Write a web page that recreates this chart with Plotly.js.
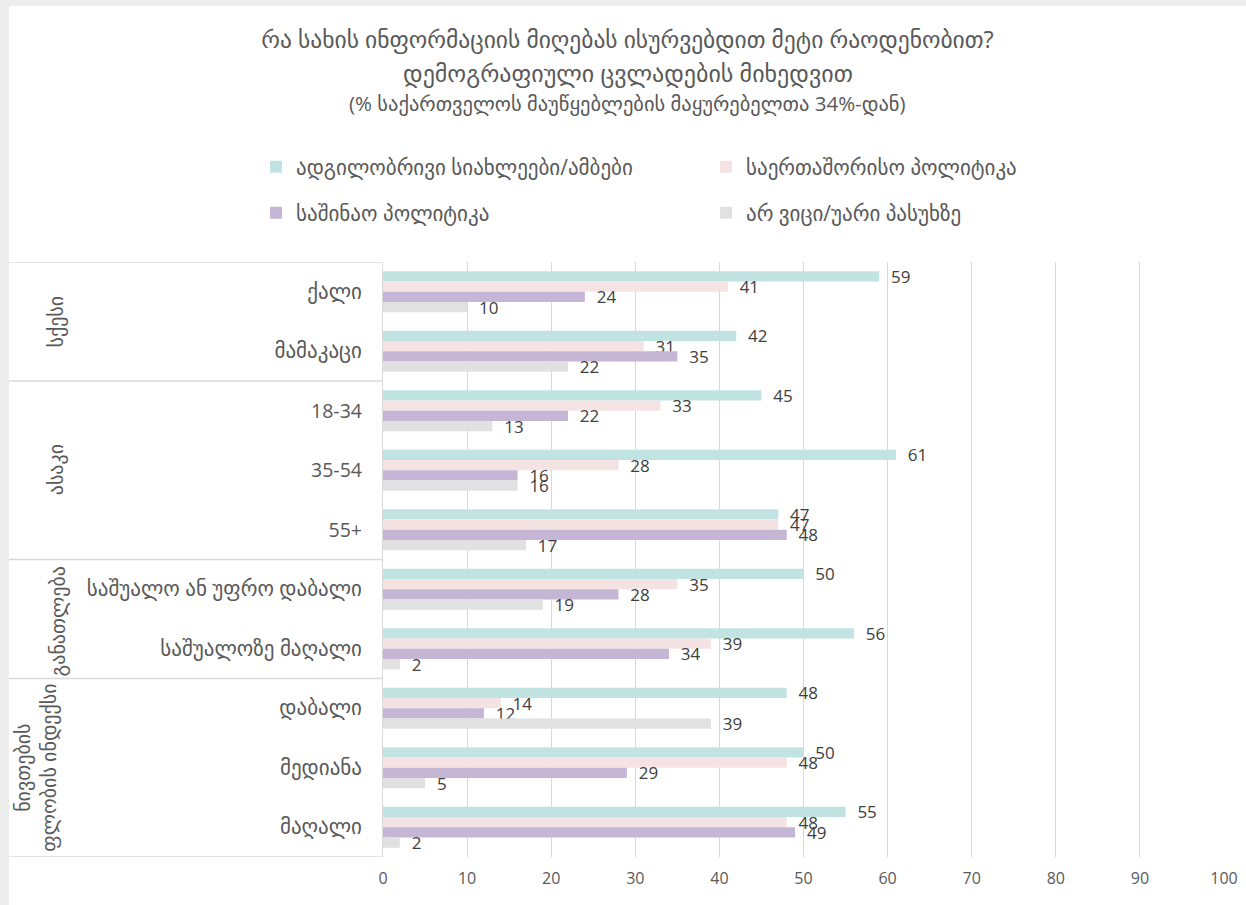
<!DOCTYPE html>
<html>
<head>
<meta charset="utf-8">
<script src="https://cdn.plot.ly/plotly-3.0.1.min.js"></script>
<style>
  html, body { margin: 0; padding: 0; background: #ededed; width: 1246px; height: 905px; overflow: hidden; }
  #chart { position: absolute; left: 9px; top: 6px; width: 1237px; height: 899px; background: #ffffff; }
</style>
</head>
<body>
<div id="chart"></div>
<script>
// ---- data ----
const categories = [
  "ქალი",
  "მამაკაცი",
  "18-34",
  "35-54",
  "55+",
  "საშუალო ან უფრო დაბალი",
  "საშუალოზე მაღალი",
  "დაბალი",
  "მედიანა",
  "მაღალი"
];
const seriesNames = [
  "ადგილობრივი სიახლეები/ამბები",
  "საერთაშორისო პოლიტიკა",
  "საშინაო პოლიტიკა",
  "არ ვიცი/უარი პასუხზე"
];
const localNews     = [59, 42, 45, 61, 47, 50, 56, 48, 50, 55];
const intlPolitics  = [41, 31, 33, 28, 47, 35, 39, 14, 48, 48];
const domPolitics   = [24, 35, 22, 16, 48, 28, 34, 12, 29, 49];
const dontKnow      = [10, 22, 13, 16, 17, 19, 2, 39, 5, 2];
const groupNames = ["სქესი", "ასაკი", "განათლება", "ნივთების<br>ფლობის ინდექსი"];
const groupSizes = [2, 3, 2, 3];
const xTicks = [0, 10, 20, 30, 40, 50, 60, 70, 80, 90, 100];
const titleLines = [
  "რა სახის ინფორმაციის მიღებას ისურვებდით მეტი რაოდენობით?",
  "დემოგრაფიული ცვლადების მიხედვით",
  "(% საქართველოს მაუწყებლების მაყურებელთა 34%-დან)"
];

// ---- styles ----
const colors = ["#c1e4e2", "#f5e3e3", "#c6b6d6", "#e1e1e1"];
const FONT = "Open Sans, DejaVu Sans, sans-serif";
const GRAY = "#595959";
const LINE = "#d9d9d9";
const GEO_SIZE = 21;
const isGeorgian = (s) => /[\u10A0-\u10FF]/.test(s);

const seriesValues = [localNews, intlPolitics, domPolitics, dontKnow];
const traces = seriesValues.map((vals, i) => ({
  type: "bar",
  orientation: "h",
  name: seriesNames[i],
  y: categories,
  x: vals,
  marker: { color: colors[i] },
  texttemplate: "\u00a0\u00a0%{x}",
  textposition: "outside",
  textfont: { family: FONT, size: 17, color: "#404040" },
  constraintext: "none",
  cliponaxis: false,
  hoverinfo: "x+name",
  legend: i < 2 ? "legend" : "legend2"
}));

// geometry helpers (div pixel -> paper)
const W = 1237, H = 899;
const mL = 374, mR = 22, mT = 256, mB = 48;
const pw = W - mL - mR, ph = H - mT - mB;
const px = (x) => (x - mL) / pw;
const py = (y) => (H - mB - y) / ph;

// table lines
const shapes = [];
let bounds = [-0.5];
groupSizes.reduce((acc, s) => { bounds.push(acc + s); return acc + s; }, -0.5);
bounds.forEach(b => {
  shapes.push({
    type: "line", xref: "paper", yref: "y",
    x0: px(0), x1: 0, y0: b, y1: b,
    line: { color: LINE, width: 1.3 }
  });
});

// group labels
const annotations = [];
let start = 0;
const groupX = [46, 46, 48, 27];
const groupYShift = [0, 0, 0.04, 0];
groupSizes.forEach((s, i) => {
  const center = start + (s - 1) / 2 + groupYShift[i];
  annotations.push({
    xref: "paper", yref: "y",
    x: px(groupX[i]), y: center,
    text: groupNames[i],
    textangle: -90,
    showarrow: false,
    font: { family: FONT, size: 20, color: GRAY },
    xanchor: "center", yanchor: "middle"
  });
  start += s;
});
// title lines 2 & 3
annotations.push({
  xref: "paper", yref: "paper", x: px(W / 2), y: py(66),
  text: titleLines[1], showarrow: false,
  font: { family: FONT, size: 24, color: GRAY },
  xanchor: "center", yanchor: "middle"
});
annotations.push({
  xref: "paper", yref: "paper", x: px(W / 2), y: py(97),
  text: titleLines[2], showarrow: false,
  font: { family: FONT, size: 20.5, color: GRAY },
  xanchor: "center", yanchor: "middle"
});

const legendCommon = {
  orientation: "h",
  xref: "paper", yref: "paper",
  xanchor: "left", yanchor: "middle",
  entrywidth: 405, entrywidthmode: "pixels",
  font: { family: FONT, size: GEO_SIZE, color: GRAY },
  bgcolor: "rgba(0,0,0,0)",
  itemclick: false, itemdoubleclick: false
};

const layout = {
  width: W, height: H,
  paper_bgcolor: "#ffffff",
  plot_bgcolor: "#ffffff",
  margin: { l: mL, r: mR, t: mT, b: mB },
  font: { family: FONT, color: GRAY },
  title: {
    text: titleLines[0],
    xref: "container", yref: "container",
    x: 0.5, y: 1 - 34 / H,
    xanchor: "center", yanchor: "middle",
    font: { family: FONT, size: 23.5, color: GRAY }
  },
  barmode: "group",
  bargap: 0.31,
  bargroupgap: 0,
  xaxis: {
    range: [0, 100],
    tickmode: "array",
    tickvals: xTicks,
    ticktext: xTicks.map(String),
    showgrid: true,
    gridcolor: LINE,
    gridwidth: 1,
    zeroline: false,
    showline: false,
    ticks: "",
    ticklabelstandoff: 10,
    tickfont: { family: "Liberation Sans Narrow, Open Sans, sans-serif", size: 16, color: GRAY },
    fixedrange: true
  },
  yaxis: {
    type: "category",
    range: [9.5, -0.5],
    tickmode: "array",
    tickvals: categories,
    ticktext: categories.map(c => isGeorgian(c) ? '<span style="font-size:' + GEO_SIZE + 'px">' + c + '</span>' : c),
    showgrid: false,
    zeroline: false,
    showline: true,
    linecolor: LINE,
    linewidth: 1.3,
    ticks: "",
    ticklabelstandoff: 16,
    tickfont: { family: FONT, size: 19.5, color: GRAY },
    fixedrange: true
  },
  legend: Object.assign({}, legendCommon, { x: px(247), y: py(161) }),
  legend2: Object.assign({}, legendCommon, { x: px(247), y: py(207) }),
  shapes: shapes,
  annotations: annotations,
  showlegend: true
};

Plotly.newPlot("chart", traces, layout, { displayModeBar: false, responsive: false });
</script>
</body>
</html>
